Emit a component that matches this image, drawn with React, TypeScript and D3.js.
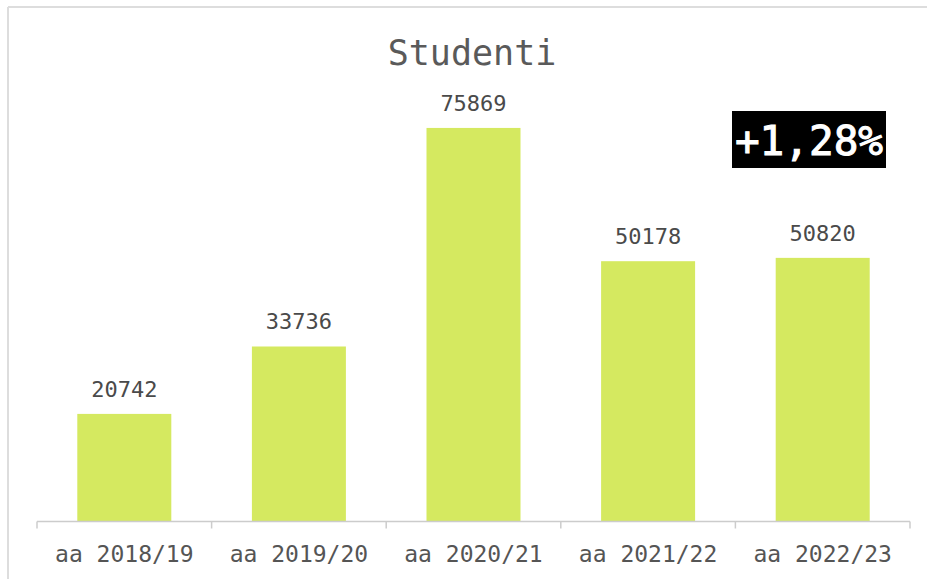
import React from "react";
import * as d3 from "d3";

const categories = ["aa 2018/19", "aa 2019/20", "aa 2020/21", "aa 2021/22", "aa 2022/23"];
const values = [20742, 33736, 75869, 50178, 50820];
const title = "Studenti";
const badge = "+1,28%";

const W = 927;
const H = 579;
const FONT = "'DejaVu Sans Mono', 'Liberation Mono', monospace";

export default function App() {
  const x = d3
    .scaleBand<string>()
    .domain(categories)
    .range([37, 910])
    .paddingInner(0.4616)
    .paddingOuter(0.2308);
  const y = d3.scaleLinear().domain([0, 80000]).range([521.5, 106.5]);
  const step = x.step();
  const x0 = 37;
  const baseY = y(0);

  return (
    <svg
      width={W}
      height={H}
      style={{ position: "absolute", left: 0, top: 0, background: "#fff" }}
    >
      <line x1={8} y1={7} x2={W} y2={7} stroke="#dddddd" strokeWidth={2} />
      <line x1={8} y1={7} x2={8} y2={H} stroke="#dddddd" strokeWidth={2} />
      <text
        x={472}
        y={65}
        textAnchor="middle"
        fontFamily={FONT}
        fontSize={35}
        fill="#5a5a5a"
      >
        {title}
      </text>
      {categories.map((c, i) => (
        <g key={c}>
          <rect
            x={x(c)}
            y={y(values[i])}
            width={x.bandwidth()}
            height={baseY - y(values[i])}
            fill="#d5e960"
          />
          <text
            x={(x(c) as number) + x.bandwidth() / 2}
            y={y(values[i]) - 17}
            textAnchor="middle"
            fontFamily={FONT}
            fontSize={22}
            fill="#4a4a4a"
          >
            {values[i]}
          </text>
          <text
            x={(x(c) as number) + x.bandwidth() / 2}
            y={562}
            textAnchor="middle"
            fontFamily={FONT}
            fontSize={23}
            fill="#555555"
          >
            {c}
          </text>
        </g>
      ))}
      <line x1={x0} y1={baseY} x2={910} y2={baseY} stroke="#cccccc" strokeWidth={1.5} />
      {d3.range(categories.length + 1).map((i) => (
        <line
          key={i}
          x1={x0 + i * step}
          y1={baseY}
          x2={x0 + i * step}
          y2={baseY + 7}
          stroke="#cccccc"
          strokeWidth={1.5}
        />
      ))}
      <rect x={732} y={111} width={154} height={57} fill="#000" />
      <text
        x={809}
        y={155}
        textAnchor="middle"
        fontFamily={FONT}
        fontSize={41}
        fill="#fff"
        stroke="#fff"
        strokeWidth={1}
      >
        {badge}
      </text>
    </svg>
  );
}
